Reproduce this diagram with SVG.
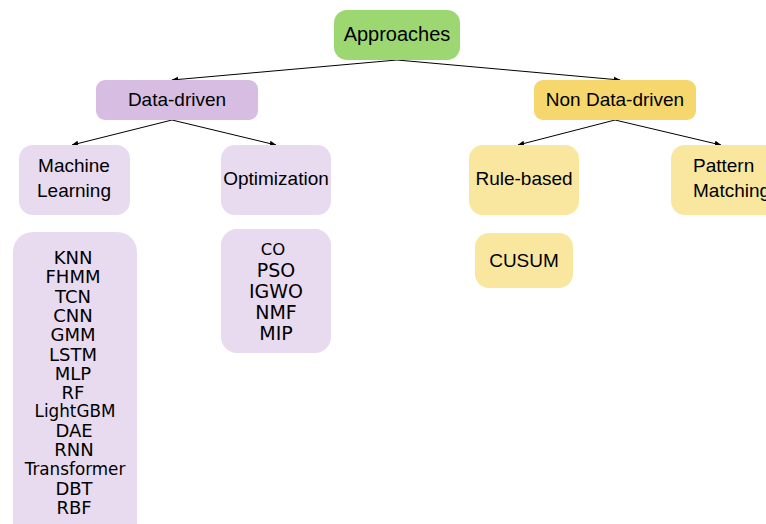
<svg xmlns="http://www.w3.org/2000/svg" width="766" height="524" viewBox="0 0 766 524">
<defs>
<marker id="ah" viewBox="0 0 10 10" refX="9" refY="5" markerWidth="7" markerHeight="7" orient="auto" markerUnits="userSpaceOnUse">
<path d="M0,1 L10,5 L0,9 z" fill="#000"/>
</marker>
<style>
.h{font-family:"Liberation Sans",Arial,sans-serif;font-size:19px;fill:#000;text-anchor:middle}
.l{font-family:"DejaVu Sans",Verdana,sans-serif;font-size:18px;fill:#000;text-anchor:middle}
.s{font-size:16.8px}
.o{font-size:19px}
.c{stroke:#000;stroke-width:1;fill:none;marker-end:url(#ah)}
.g{fill:#9cd772}
.p{fill:#d7bde2}
.pl{fill:#e8daef}
.y{fill:#f5d76e}
.yl{fill:#f9e79f}
</style>
</defs>
<rect width="766" height="524" fill="#fff"/>
<g id="connectors">
<line class="c" x1="397" y1="60" x2="172" y2="80"/>
<line class="c" x1="397" y1="60" x2="620" y2="80"/>
<line class="c" x1="172" y1="120" x2="72" y2="145"/>
<line class="c" x1="172" y1="120" x2="276" y2="145"/>
<line class="c" x1="615" y1="120" x2="518" y2="145"/>
<line class="c" x1="615" y1="120" x2="721" y2="145"/>
</g>
<g id="approaches"><rect class="g" x="334" y="10" width="126" height="50" rx="13"/><text class="h" x="397" y="41" style="font-size:20px">Approaches</text></g>
<g id="data-driven"><rect class="p" x="96" y="80" width="162" height="40" rx="9"/><text class="h" x="177" y="106">Data-driven</text></g>
<g id="non-data-driven"><rect class="y" x="534" y="80" width="162" height="40" rx="9"/><text class="h" x="615" y="106">Non Data-driven</text></g>
<g id="machine-learning"><rect class="pl" x="19" y="145" width="111" height="70" rx="14"/><text class="h" x="74" y="172">Machine</text><text class="h" x="74" y="197">Learning</text></g>
<g id="optimization"><rect class="pl" x="221" y="145" width="110" height="70" rx="14"/><text class="h" x="276" y="185">Optimization</text></g>
<g id="rule-based"><rect class="yl" x="469" y="145" width="110" height="70" rx="14"/><text class="h" x="524" y="185">Rule-based</text></g>
<g id="pattern-matching"><rect class="yl" x="671" y="145" width="120" height="70" rx="14"/><text class="h" x="693" y="172" style="text-anchor:start">Pattern</text><text class="h" x="693" y="197" style="text-anchor:start">Matching</text></g>
<g id="cusum"><rect class="yl" x="475" y="233" width="98" height="55" rx="14"/><text class="h" x="524" y="267">CUSUM</text></g>
<g id="optimization-list"><rect class="pl" x="221" y="229" width="110" height="124" rx="16"/>
<text class="l" x="273" y="255" style="font-size:16.5px">CO</text>
<text class="l o" x="276" y="277">PSO</text>
<text class="l o" x="276" y="298">IGWO</text>
<text class="l o" x="276" y="319">NMF</text>
<text class="l o" x="276" y="340">MIP</text>
</g>
<g id="ml-list"><rect class="pl" x="13" y="232" width="124" height="310" rx="20"/>
<text class="l" x="73" y="264">KNN</text>
<text class="l" x="73" y="283">FHMM</text>
<text class="l" x="73" y="303">TCN</text>
<text class="l" x="73" y="322">CNN</text>
<text class="l" x="73" y="341">GMM</text>
<text class="l" x="73" y="361">LSTM</text>
<text class="l" x="73" y="380">MLP</text>
<text class="l" x="73" y="399">RF</text>
<text class="l s" x="75" y="417">LightGBM</text>
<text class="l" x="74" y="437">DAE</text>
<text class="l" x="74" y="456">RNN</text>
<text class="l s" x="75" y="475">Transformer</text>
<text class="l" x="74" y="495">DBT</text>
<text class="l" x="74" y="514">RBF</text>
</g>
</svg>
